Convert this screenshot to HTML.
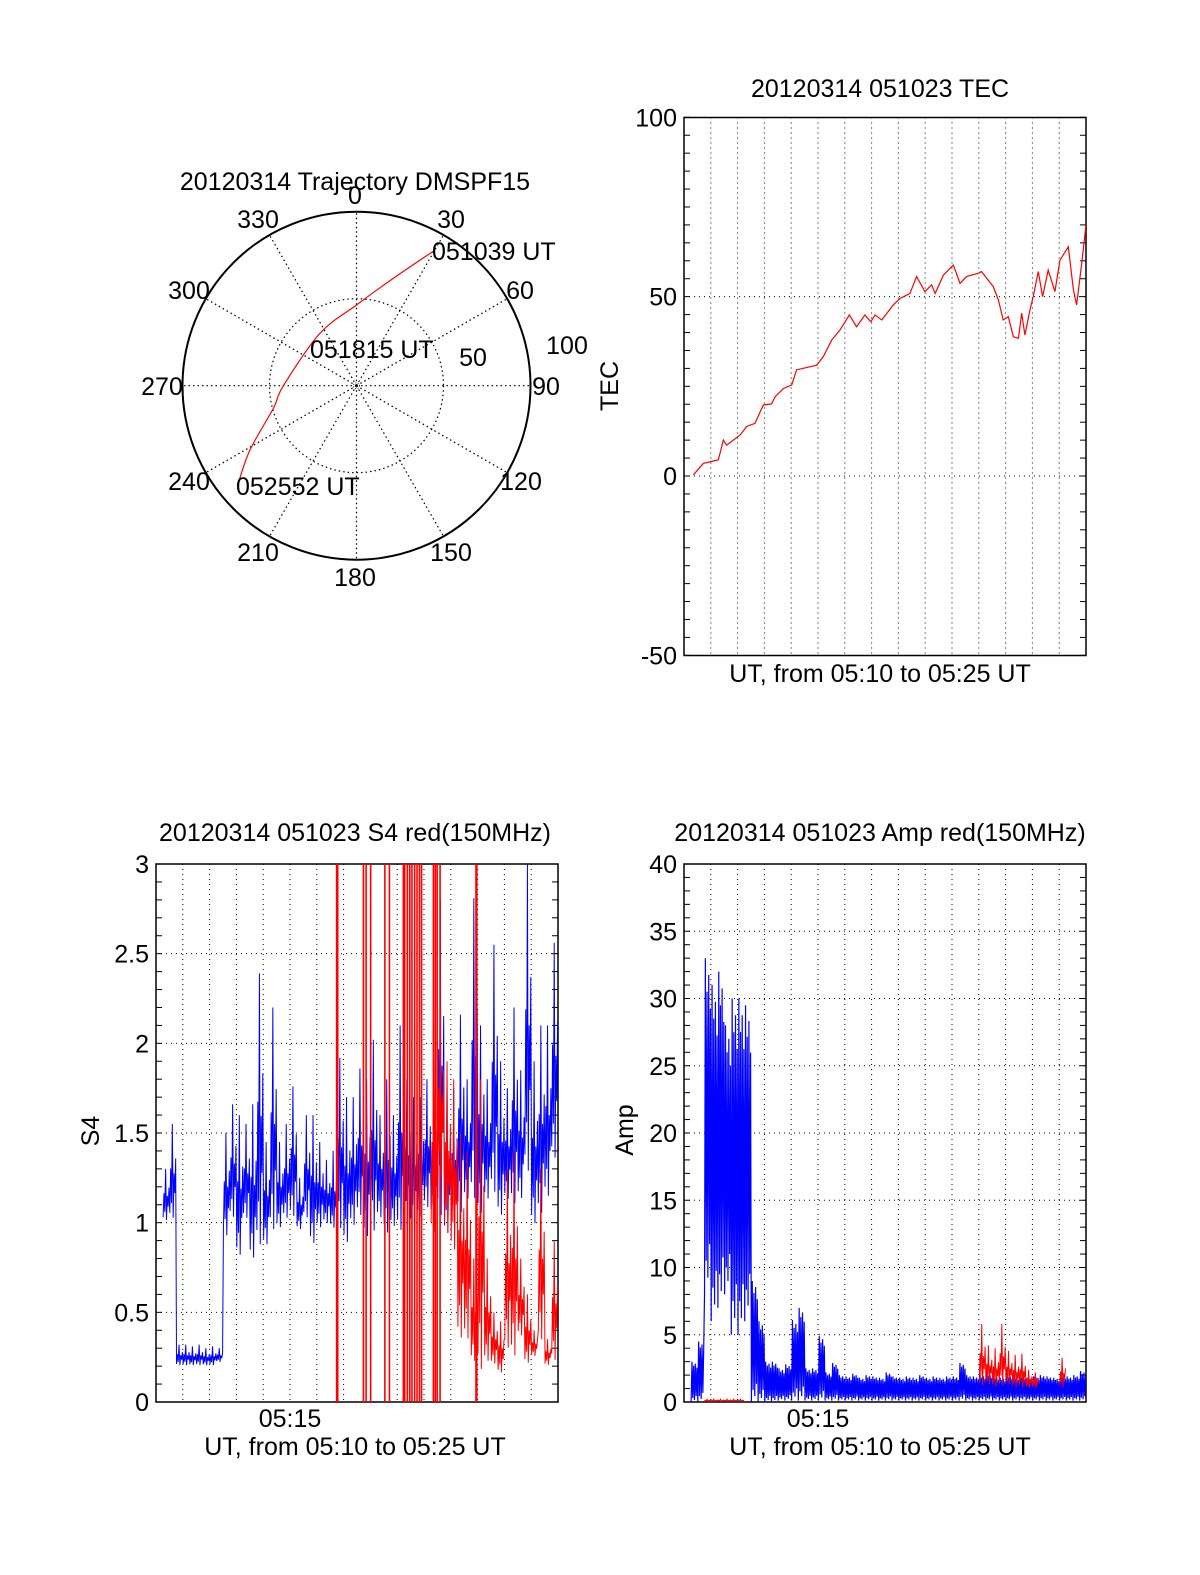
<!DOCTYPE html>
<html><head><meta charset="utf-8">
<style>
html,body{margin:0;padding:0;background:#fff;}
svg{display:block;font-family:"Liberation Sans",sans-serif;}
</style></head>
<body>
<svg id="fig" width="1200" height="1575" viewBox="0 0 1200 1575" xmlns="http://www.w3.org/2000/svg">
<rect width="1200" height="1575" fill="#fff"/>
<defs>
<clipPath id="clipTec"><rect x="684" y="117.5" width="402" height="538"/></clipPath>
<clipPath id="clipS4"><rect x="156" y="864" width="402" height="538"/></clipPath>
<clipPath id="clipAmp"><rect x="684" y="864" width="402" height="538"/></clipPath>
</defs>
<g id="polar"></g>
<g id="tec"></g>
<g id="s4"></g>
<g id="amp"></g>
</svg>
<script>
// ---------- data ----------
const trajAz  = [29.9, 18.9, 0, 325, 270, 254.8, 238.9, 230.6];
const trajZen = [89.5, 65.2, 46.4, 36.7, 42, 49.5, 71.5, 87.8];
const polarAngleLabels = ["0","30","60","90","120","150","180","210","240","270","300","330"];

const tecTime = [0.35,0.72,1.28,1.47,1.59,2.09,2.34,2.65,2.96,3.27,3.4,3.71,4.02,4.2,4.95,5.2,5.51,5.82,6.17,6.44,6.75,6.97,7.13,7.38,7.81,8.06,8.43,8.68,8.99,9.24,9.37,9.68,10.05,10.3,10.54,10.98,11.1,11.54,11.73,11.91,12.1,12.29,12.48,12.6,12.72,12.91,13.03,13.22,13.38,13.59,13.84,14.03,14.34,14.53,14.65,14.84,15.0];
const tecValue = [0.3,3.5,4.5,10,8.6,11.4,13.8,14.7,19.8,20.1,22.1,24.4,25.4,29.6,30.9,33.3,37.9,40.7,44.9,41.6,44.9,43,44.9,43.5,47.7,49.5,50.9,55.6,51.4,53.3,50.9,56,58.8,53.7,55.6,56.5,57,52.8,49.1,43.5,44.4,38.8,38.4,45.4,39.3,46.3,50,57,50,57.4,51.4,60.2,63.9,51.9,47.7,59.3,70];
const tecTicks = [100,50,0,-50];

// S4: quarter-minute bins [low, high] starting at 05:10
const s4BlueLow  = [null,1.0,1.0,0.2,0.2,0.2,0.2,0.2,0.2,0.22,0.9,1.0,0.78,1.0,0.76,0.8,0.85,0.9,0.95,1.0,1.0,0.95,1.0,0.85,0.95,0.98,0.95,0.92,0.85,0.95,1.0,0.88,0.9,1.0,0.9,0.95,0.9,0.95,0.95,1.0,1.05,1.0,0.95,0.9,0.95,1.0,1.1,1.05,1.0,1.1,1.1,1.0,1.1,1.05,1.1,1.2,0.95,1.0,1.1,1.3];
const s4BlueHigh = [null,1.3,1.55,0.32,0.32,0.31,0.32,0.3,0.31,0.3,1.5,1.66,1.6,1.55,1.66,2.39,1.45,2.2,1.45,1.55,1.76,1.25,1.6,1.6,1.45,1.35,1.4,1.92,1.7,1.7,1.86,1.8,2.02,1.6,1.8,1.6,2.1,1.8,1.7,1.7,1.8,1.75,2.8,1.75,1.75,2.16,1.8,2.81,2.1,1.8,2.55,1.9,1.75,2.2,1.85,3.0,1.9,2.1,2.1,2.56];
const s4RedSpikeTime = [6.74,6.78,7.74,7.84,8.01,8.54,8.71,9.23,9.28,9.38,9.47,9.55,9.65,9.74,9.83,9.91,10.35,10.42,10.49,10.6,11.94,11.97];
const s4RedBinStart = [41,42,43,44,45,46,47,48,49,50,51,52,53,54,55,56,57,58,59];
const s4RedLow  = [0.9,1.2,0.9,0.8,0.3,0.3,0.2,0.1,0.2,0.2,0.15,0.25,0.2,0.35,0.2,0.25,0.3,0.2,0.2];
const s4RedHigh = [1.9,2.2,1.9,1.8,1.5,1.4,0.8,1.8,0.8,0.5,0.45,1.3,1.4,0.8,0.6,0.4,1.3,0.35,0.9];
const s4Ticks = [0,0.5,1,1.5,2,2.5,3];

// Amp: quarter-minute bins
const ampBlueLow  = [null,0,0,8,6,7,8,5,5,6,0,0,0,0,0.1,0.1,0.1,0.1,0.1,0.1,0.1,0.1,0.1,0.1,0.1,0.1,0.1,0.1,0.1,0.1,0.1,0.1,0.1,0.1,0.1,0.1,0.1,0.1,0.1,0.1,0.1,0.1,0.1,0.1,0.1,0.1,0.1,0.1,0.1,0.1,0.1,0.1,0.1,0.1,0.1,0.1,0.1,0.1,0.1,0.1];
const ampBlueHigh = [null,3,4.5,33,31,32,28,30,30,29.5,9,6,3,3,2.5,2.8,6.1,7.0,2.5,2.5,4.9,2.2,2.9,2.0,1.9,2.1,1.8,2.0,1.9,1.8,2.2,1.9,1.8,1.9,1.8,2.0,1.8,1.9,1.8,1.9,1.9,2.9,2.0,1.9,2.0,2.1,1.9,1.8,2.0,1.9,2.0,1.8,1.9,2.0,1.9,1.8,2.0,1.9,2.0,2.3];
const ampRedBinStart = [3,4,5,6,7,8,44,45,46,47,48,49,50,51,52,56];
const ampRedLow  = [0.05,0.05,0.05,0.05,0.05,0.05,1.0,1.2,1.0,1.0,1.2,1.0,1.0,1.0,1.0,1.0];
const ampRedHigh = [0.2,0.2,0.2,0.2,0.2,0.2,5.8,4.2,4.0,5.8,3.8,3.5,3.6,2.4,2.2,3.3];
const ampTicks = [0,5,10,15,20,25,30,35,40];

// ---------- helpers ----------
const NS = "http://www.w3.org/2000/svg";
const FS = 25;
function mk(tag, attrs, parent){ const e=document.createElementNS(NS,tag); for(const k in attrs) e.setAttribute(k,attrs[k]); parent.appendChild(e); return e; }
function txt(parent, x, y, s, anchor, size){ const t=mk("text",{x:x,y:y,"font-size":size||FS,"text-anchor":anchor||"middle",fill:"#000"},parent); t.textContent=s; return t; }

const PX_PER_MIN = 26.8;
function xAt(t, x0){ return x0 + t*PX_PER_MIN; }
function yTec(v){ return 476 - v*3.587; }
function yS4(v){ return 1402 - v*179.33; }
function yAmp(v){ return 1402 - v*13.45; }

const zig = [0.1,0.55,0.2,1.0,0.05,0.5,0.3,0.65];
const zigFull = [0.0,1.0,0.1,0.9,0.05,0.95,0.15,0.85];
// returns array of point strings, one per contiguous run of bins
function binSegments(binIdx, lows, highs, x0, yf, pat){
  const segs=[]; let cur=[]; let prev=null;
  for(let i=0;i<binIdx.length;i++){
    const k=binIdx[i], lo=lows[i], hi=highs[i];
    if(lo===null){ if(cur.length){segs.push(cur);cur=[];} prev=null; continue; }
    if(prev!==null && k!==prev+1 && cur.length){ segs.push(cur); cur=[]; }
    for(let j=0;j<pat.length;j++){
      const t=(k+(j+0.5)/pat.length)*0.25;
      cur.push(xAt(t,x0).toFixed(2)+","+yf(lo+(hi-lo)*pat[j]).toFixed(2));
    }
    prev=k;
  }
  if(cur.length) segs.push(cur);
  return segs.map(s=>s.join(" "));
}

function frame(g, x0, y0, w, h, yTicks, yf, minorStep, minorMin, minorMax){
  for(let m=1;m<15;m++){
    const x=xAt(m,x0);
    const l=mk("line",{x1:x,y1:y0,x2:x,y2:y0+h,stroke:"#000","stroke-width":1,"stroke-dasharray":"1,4"},g);
    
    
  }
  yTicks.forEach(v=>{
    const y=yf(v);
    if(y>y0+1 && y<y0+h-1){
      const l=mk("line",{x1:x0,y1:y,x2:x0+w,y2:y,stroke:"#000","stroke-width":1,"stroke-dasharray":"1,4"},g);
      
      
    }
    const t=txt(g, x0-7, y+9, String(v), "end");
    
    
  });
  for(let v=minorMin; v<=minorMax+1e-9; v+=minorStep){
    const y=yf(v);
    mk("line",{x1:x0,y1:y,x2:x0+6,y2:y,stroke:"#000","stroke-width":1},g);
    mk("line",{x1:x0+w-6,y1:y,x2:x0+w,y2:y,stroke:"#000","stroke-width":1},g);
  }
  const r=mk("rect",{x:x0,y:y0,width:w,height:h,fill:"none",stroke:"#000","stroke-width":1.5},g);
  
  
}

// ---------- polar ----------
(function(){
  const g=document.getElementById("polar");
  const cx=356.5, cy=385.7, R=174;
  const title=txt(g,355,190,"20120314 Trajectory DMSPF15");
  
  
  for(let a=0;a<360;a+=30){
    const rad=a*Math.PI/180;
    const l=mk("line",{x1:cx,y1:cy,x2:cx+R*Math.sin(rad),y2:cy-R*Math.cos(rad),stroke:"#000","stroke-width":1.2,"stroke-dasharray":"1.5,3"},g);
    
    
  }
  const inner=mk("circle",{cx:cx,cy:cy,r:R/2,fill:"none",stroke:"#000","stroke-width":1.2,"stroke-dasharray":"1.5,3"},g);
  
  
  mk("circle",{cx:cx,cy:cy,r:3,fill:"none",stroke:"#000","stroke-width":0.8,"stroke-dasharray":"1,1.5"},g);
  const outer=mk("circle",{cx:cx,cy:cy,r:R,fill:"none",stroke:"#000","stroke-width":2},g);
  
  
  const lp=[[355,204],[451,228],[520,299],[546,395],[521,490],[451,561],[355,586],[258,561],[189,490],[162,395],[189,299],[258,228]];
  polarAngleLabels.forEach((s,i)=>{
    const t=txt(g,lp[i][0],lp[i][1],s);
    
    
  });
  const l100=txt(g,567,354,"100");  
  const l50=txt(g,473,366,"50");  
  const pts=trajAz.map((az,i)=>{const r=trajZen[i]/100*R, a=az*Math.PI/180; return [cx+r*Math.sin(a), cy-r*Math.cos(a)];});
  let d="M"+pts[0][0]+","+pts[0][1];
  for(let i=0;i<pts.length-1;i++){
    const p0=pts[Math.max(0,i-1)],p1=pts[i],p2=pts[i+1],p3=pts[Math.min(pts.length-1,i+2)];
    d+=" C"+(p1[0]+(p2[0]-p0[0])/6)+","+(p1[1]+(p2[1]-p0[1])/6)+" "+(p2[0]-(p3[0]-p1[0])/6)+","+(p2[1]-(p3[1]-p1[1])/6)+" "+p2[0]+","+p2[1];
  }
  const tr=mk("path",{d:d,fill:"none",stroke:"#f00","stroke-width":1.2},g);
  
  
  const a=txt(g,432,260,"051039 UT","start");  
  const b=txt(g,310,358,"051815 UT","start");  
  const c=txt(g,236,495,"052552 UT","start");  
})();

// ---------- TEC ----------
(function(){
  const g=document.getElementById("tec");
  const x0=684,y0=117.5,w=402,h=538;
  frame(g,x0,y0,w,h,tecTicks,yTec,5,-50,100);
  const pts=tecTime.map((t,i)=>xAt(t,x0).toFixed(2)+","+yTec(tecValue[i]).toFixed(2)).join(" ");
  const pl=mk("polyline",{points:pts,fill:"none",stroke:"#f00","stroke-width":1.2,"clip-path":"url(#clipTec)"},g);
  
  
  const t=txt(g,880,97,"20120314 051023 TEC");  
  const xl=txt(g,880,682,"UT, from 05:10 to 05:25 UT");  
  const yl=mk("text",{x:0,y:0,"font-size":FS,"text-anchor":"middle",transform:"translate(618,386) rotate(-90)"},g); yl.textContent="TEC";
  
  
})();

// ---------- S4 ----------
(function(){
  const g=document.getElementById("s4");
  const x0=156,y0=864,w=402,h=538;
  frame(g,x0,y0,w,h,s4Ticks,yS4,0.1,0,3);
  const idx=s4BlueLow.map((_,i)=>i);
  binSegments(idx,s4BlueLow,s4BlueHigh,x0,yS4,zig).forEach(p=>{
    const blue=mk("polyline",{points:p,fill:"none",stroke:"#00f","stroke-width":1,"clip-path":"url(#clipS4)"},g);
    
    
  });
  binSegments(s4RedBinStart,s4RedLow,s4RedHigh,x0,yS4,zig).forEach(p=>{
    const red=mk("polyline",{points:p,fill:"none",stroke:"#f00","stroke-width":1,"clip-path":"url(#clipS4)"},g);
    
    
  });
  s4RedSpikeTime.forEach(t=>{
    const x=xAt(t,x0);
    const l=mk("line",{x1:x,y1:yS4(0),x2:x,y2:yS4(3),stroke:"#f00","stroke-width":1.6},g);
    
    
  });
  const tk=txt(g,xAt(5,x0),1427,"05:15");  
  const t=txt(g,355,841,"20120314 051023 S4 red(150MHz)");  
  const xl=txt(g,355,1455,"UT, from 05:10 to 05:25 UT");  
  const yl=mk("text",{x:0,y:0,"font-size":FS,"text-anchor":"middle",transform:"translate(99,1131) rotate(-90)"},g); yl.textContent="S4";
  
  
})();

// ---------- Amp ----------
(function(){
  const g=document.getElementById("amp");
  const x0=684,y0=864,w=402,h=538;
  frame(g,x0,y0,w,h,ampTicks,yAmp,1,0,40);
  const idx=ampBlueLow.map((_,i)=>i);
  binSegments(idx,ampBlueLow,ampBlueHigh,x0,yAmp,zigFull).forEach(p=>{
    const blue=mk("polyline",{points:p,fill:"none",stroke:"#00f","stroke-width":1.2,"clip-path":"url(#clipAmp)"},g);
    
    
  });
  binSegments(ampRedBinStart,ampRedLow,ampRedHigh,x0,yAmp,zig).forEach(p=>{
    const red=mk("polyline",{points:p,fill:"none",stroke:"#f00","stroke-width":1,"clip-path":"url(#clipAmp)"},g);
    
    
  });
  const tk=txt(g,xAt(5,x0),1427,"05:15");  
  const t=txt(g,880,841,"20120314 051023 Amp red(150MHz)");  
  const xl=txt(g,880,1455,"UT, from 05:10 to 05:25 UT");  
  const yl=mk("text",{x:0,y:0,"font-size":FS,"text-anchor":"middle",transform:"translate(633,1130) rotate(-90)"},g); yl.textContent="Amp";
  
  
})();
</script>
</body></html>
